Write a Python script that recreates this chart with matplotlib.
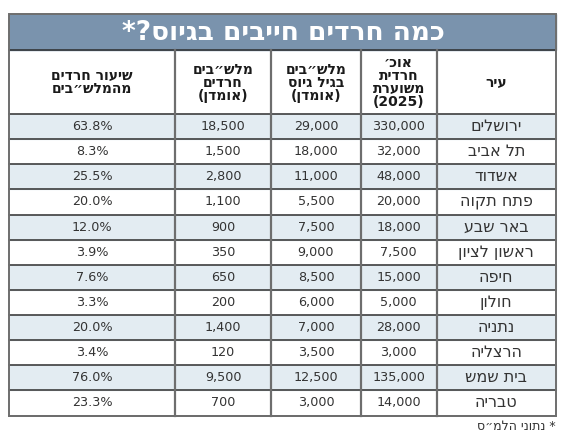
import matplotlib
matplotlib.use("Agg")
import matplotlib.pyplot as plt
from matplotlib.patches import Rectangle

# --- data (logical Hebrew order, reversed for display below) ---
title = "כמה חרדים חייבים בגיוס?*"
footnote = "* נתוני הלמ״ס"

headers = [
    ["עיר"],
    ["אוכ׳", "חרדית", "משוערת", "(2025)"],
    ["מלש״בים", "בגיל גיוס", "(אומדן)"],
    ["מלש״בים", "חרדים", "(אומדן)"],
    ["שיעור חרדים", "מהמלש״בים"],
]

cities = ["ירושלים", "תל אביב", "אשדוד", "פתח תקוה", "באר שבע", "ראשון לציון",
          "חיפה", "חולון", "נתניה", "הרצליה", "בית שמש", "טבריה"]
haredi_pop = [330000, 32000, 48000, 20000, 18000, 7500,
              15000, 5000, 28000, 3000, 135000, 14000]
draft_age = [29000, 18000, 11000, 5500, 7500, 9000,
             8500, 6000, 7000, 3500, 12500, 3000]
draft_haredi = [18500, 1500, 2800, 1100, 900, 350,
                650, 200, 1400, 120, 9500, 700]
haredi_share = [63.8, 8.3, 25.5, 20.0, 12.0, 3.9,
                7.6, 3.3, 20.0, 3.4, 76.0, 23.3]


def vis(s):
    """Visual (left-to-right) order for an RTL Hebrew string."""
    mirror = {"(": ")", ")": "("}
    if all(not ("\u0590" <= c <= "\u05ff") for c in s):
        return s
    return "".join(mirror.get(c, c) for c in reversed(s))


FONT = ["DejaVu Sans", "Liberation Sans"]
plt.rcParams["font.family"] = FONT

fig = plt.figure(figsize=(5.63, 4.33), dpi=100)
ax = fig.add_axes([0, 0, 1, 1])
ax.set_xlim(0, 563)
ax.set_ylim(433, 0)
ax.axis("off")

# columns right-to-left: city, pop, draft age, draft haredi, share
col_edges = [556, 436.5, 361, 271, 175, 9]
top, title_bot, head_bot = 14, 49.5, 114
n = len(cities)
row_h = (415.5 - head_bot) / n
bottom = head_bot + n * row_h

band = "#7a93ad"
stripe = "#e3ecf2"
txt = "#333333"
grid = "#6e6e6e"

# title band
ax.add_patch(Rectangle((col_edges[-1], top), col_edges[0] - col_edges[-1],
                       title_bot - top, color=band, zorder=1))
ax.text((col_edges[0] + col_edges[-1]) / 2 + 1, (top + title_bot) / 2 + 1, vis(title),
        ha="center", va="center", color="white", fontsize=19, fontweight="bold",
        zorder=3)

# stripes
for i in range(n):
    if i % 2 == 0:
        y0 = head_bot + i * row_h
        ax.add_patch(Rectangle((col_edges[-1], y0), col_edges[0] - col_edges[-1],
                               row_h, color=stripe, zorder=1))

# header text: one multi-line text per column
head_mid = (title_bot + head_bot) / 2
for j, lines in enumerate(headers):
    xc = (col_edges[j] + col_edges[j + 1]) / 2
    ax.text(xc, head_mid + 1, "\n".join(vis(l) for l in lines), ha="center",
            va="center", ma="center", color="#1a1a1a", fontsize=10,
            fontweight="bold", linespacing=0.9, zorder=3)

# body
cols = [
    [vis(c) for c in cities],
    [f"{v:,}" for v in haredi_pop],
    [f"{v:,}" for v in draft_age],
    [f"{v:,}" for v in draft_haredi],
    [f"{v:.1f}%" for v in haredi_share],
]
for j, vals in enumerate(cols):
    xc = (col_edges[j] + col_edges[j + 1]) / 2
    for i, s in enumerate(vals):
        y = head_bot + (i + 0.5) * row_h
        ax.text(xc, y, s, ha="center", va="center", color=txt,
                fontsize=9.2 if j else 11.5, zorder=3)

# grid lines
for i in range(n + 1):
    y = head_bot + i * row_h
    ax.plot([col_edges[-1], col_edges[0]], [y, y], color="#2e2e2e", lw=1.1, zorder=2)
ax.plot([col_edges[-1], col_edges[0]], [title_bot, title_bot], color="#2e2e2e",
        lw=1.1, zorder=2)
for x in col_edges[1:-1]:
    ax.plot([x, x], [title_bot, bottom], color=grid, lw=1.6, zorder=2)
ax.add_patch(Rectangle((col_edges[-1], top), col_edges[0] - col_edges[-1],
                       bottom - top, fill=False, edgecolor=grid, lw=1.4, zorder=4))

ax.text(col_edges[0], 426, vis(footnote), ha="right", va="center", color=txt,
        fontsize=9)

fig.savefig("out.png", dpi=100)
